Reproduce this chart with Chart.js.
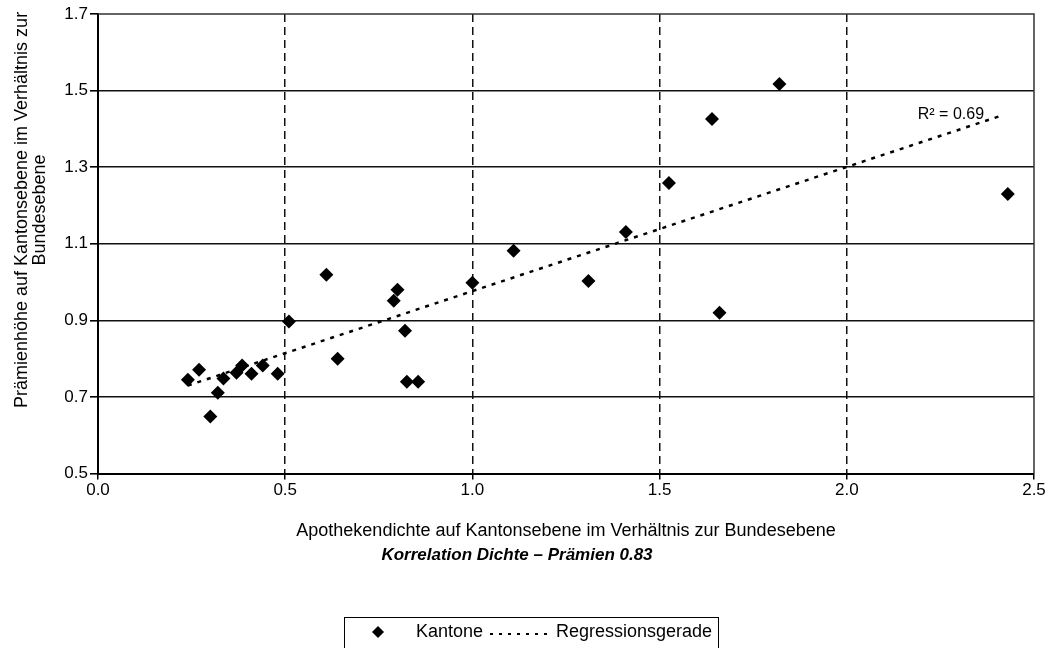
<!DOCTYPE html>
<html lang="de">
<head>
<meta charset="utf-8">
<title>Apothekendichte und Prämienhöhe</title>
<script src="https://cdn.jsdelivr.net/npm/chart.js@4/dist/chart.umd.min.js"></script>
<style>
  html, body { margin: 0; padding: 0; background: #fff; }
  #wrap { position: relative; width: 1049px; height: 648px; }
</style>
</head>
<body>
<div id="wrap"><canvas id="chart"></canvas></div>
<script>
'use strict';

// Kantone: Apothekendichte (x) und Prämienhöhe (y), jeweils relativ zur Bundesebene
const densityX = [0.24, 0.27, 0.30, 0.32, 0.335, 0.37, 0.385, 0.41, 0.44, 0.48,
                  0.51, 0.61, 0.64, 0.79, 0.80, 0.82, 0.825, 0.855, 1.00, 1.11,
                  1.31, 1.41, 1.525, 1.64, 1.66, 1.82, 2.43];
const premiumY = [0.745, 0.771, 0.649, 0.711, 0.748, 0.763, 0.782, 0.761, 0.782, 0.761,
                  0.897, 1.019, 0.800, 0.951, 0.980, 0.873, 0.740, 0.740, 0.998, 1.082,
                  1.003, 1.131, 1.259, 1.426, 0.920, 1.517, 1.230];

// Regressionsgerade (Endpunkte)
const regX = [0.24, 2.42];
const regY = [0.73, 1.437];

const xTicks = [0, 0.5, 1.0, 1.5, 2.0, 2.5];
const yTicks = [0.5, 0.7, 0.9, 1.1, 1.3, 1.5, 1.7];

const rSquaredLabel = 'R² = 0.69';
const xTitle = 'Apothekendichte auf Kantonsebene im Verhältnis zur Bundesebene';
const yTitle = ['Prämienhöhe auf Kantonsebene im Verhältnis zur', 'Bundesebene'];
const subTitle = 'Korrelation Dichte – Prämien 0.83';

const FONT = "'Liberation Sans', Arial, Helvetica, sans-serif";
Chart.defaults.font.family = FONT;
Chart.defaults.color = '#000';

const isEdge = (v, list) => v === list[0] || v === list[list.length - 1];

// Rahmen oben/rechts, y-Achsentitel, R²-Beschriftung und Legende im Kasten
const extras = {
  id: 'extras',
  beforeDatasetsDraw(chart) {
    const { ctx, chartArea: a } = chart;
    ctx.save();
    ctx.strokeStyle = '#333';
    ctx.lineWidth = 1.5;
    ctx.beginPath();
    ctx.moveTo(a.left, a.top);
    ctx.lineTo(a.right, a.top);
    ctx.lineTo(a.right, a.bottom);
    ctx.stroke();
    ctx.restore();
  },
  afterDraw(chart) {
    const { ctx, scales: { x, y } } = chart;
    const ds = chart.data.datasets;

    ctx.save();
    ctx.fillStyle = '#000';
    ctx.textBaseline = 'middle';

    // y-Achsentitel (zweizeilig, etwas oberhalb der Mitte wie im Original)
    ctx.save();
    ctx.translate(0, 210);
    ctx.rotate(-Math.PI / 2);
    ctx.font = `18px ${FONT}`;
    ctx.textAlign = 'center';
    yTitle.forEach((line, i) => ctx.fillText(line, 0, 22 + i * 18.5));
    ctx.restore();

    ctx.font = `16px ${FONT}`;
    ctx.textAlign = 'right';
    const ex = x.getPixelForValue(regX[regX.length - 1]);
    const ey = y.getPixelForValue(regY[regY.length - 1]);
    ctx.fillText(rSquaredLabel, ex - 20, ey);

    // Legende
    const bx = 344, by = 617, bw = 374, bh = 40;
    const cy = 632;
    ctx.strokeStyle = '#000';
    ctx.lineWidth = 1;
    ctx.strokeRect(bx + 0.5, by + 0.5, bw, bh);

    ctx.beginPath();
    ctx.moveTo(378, cy - 6);
    ctx.lineTo(384, cy);
    ctx.lineTo(378, cy + 6);
    ctx.lineTo(372, cy);
    ctx.closePath();
    ctx.fill();

    ctx.font = `18px ${FONT}`;
    ctx.textAlign = 'left';
    ctx.fillText(ds[0].label, 416, cy);

    ctx.lineWidth = 2;
    ctx.setLineDash([3, 6]);
    ctx.beginPath();
    ctx.moveTo(490, cy + 2);
    ctx.lineTo(553, cy + 2);
    ctx.stroke();
    ctx.setLineDash([]);
    ctx.fillText(ds[1].label, 556, cy);
    ctx.restore();
  }
};

new Chart(document.getElementById('chart'), {
  type: 'scatter',
  data: {
    datasets: [
      {
        label: 'Kantone',
        data: densityX.map((v, i) => ({ x: v, y: premiumY[i] })),
        pointStyle: 'rectRot',
        pointRadius: 7,
        pointBackgroundColor: '#000',
        pointBorderColor: '#000',
        pointBorderWidth: 0,
      },
      {
        label: 'Regressionsgerade',
        data: regX.map((v, i) => ({ x: v, y: regY[i] })),
        showLine: true,
        borderColor: '#000',
        borderWidth: 2.5,
        borderDash: [4, 6],
        pointRadius: 0,
      },
    ],
  },
  options: {
    responsive: true,
    maintainAspectRatio: false,
    animation: false,
    layout: { padding: { top: 14, right: 15, bottom: 82, left: 0 } },
    plugins: {
      legend: { display: false },
      tooltip: { enabled: false },
      subtitle: {
        display: true,
        position: 'bottom',
        text: subTitle,
        font: { size: 17, weight: 'bold', style: 'italic' },
        padding: { top: 4, bottom: 0 },
      },
    },
    scales: {
      x: {
        type: 'linear',
        min: 0,
        max: 2.5,
        afterBuildTicks: s => { s.ticks = xTicks.map(v => ({ value: v })); },
        ticks: { font: { size: 17 }, padding: 1, callback: v => v.toFixed(1) },
        grid: {
          color: c => isEdge(c.tick && c.tick.value, xTicks) ? 'rgba(0,0,0,0)' : '#111',
          lineWidth: 1.5,
          tickColor: '#000',
          tickLength: 6,
          tickBorderDash: [],
        },
        border: { color: '#000', width: 2, dash: [8, 5] },
        title: {
          display: true,
          text: xTitle,
          font: { size: 18 },
          padding: { top: 18, bottom: 0 },
        },
      },
      y: {
        type: 'linear',
        min: 0.5,
        max: 1.7,
        afterBuildTicks: s => { s.ticks = yTicks.map(v => ({ value: v })); },
        afterFit: s => { s.width = 98; },
        ticks: { font: { size: 17 }, padding: 2, callback: v => v.toFixed(1) },
        grid: {
          color: c => isEdge(c.tick && c.tick.value, yTicks) ? 'rgba(0,0,0,0)' : '#111',
          lineWidth: 1.6,
          tickColor: '#000',
          tickLength: 8,
        },
        border: { color: '#000', width: 2 },
        title: { display: false },
      },
    },
  },
  plugins: [extras],
});
</script>
</body>
</html>
